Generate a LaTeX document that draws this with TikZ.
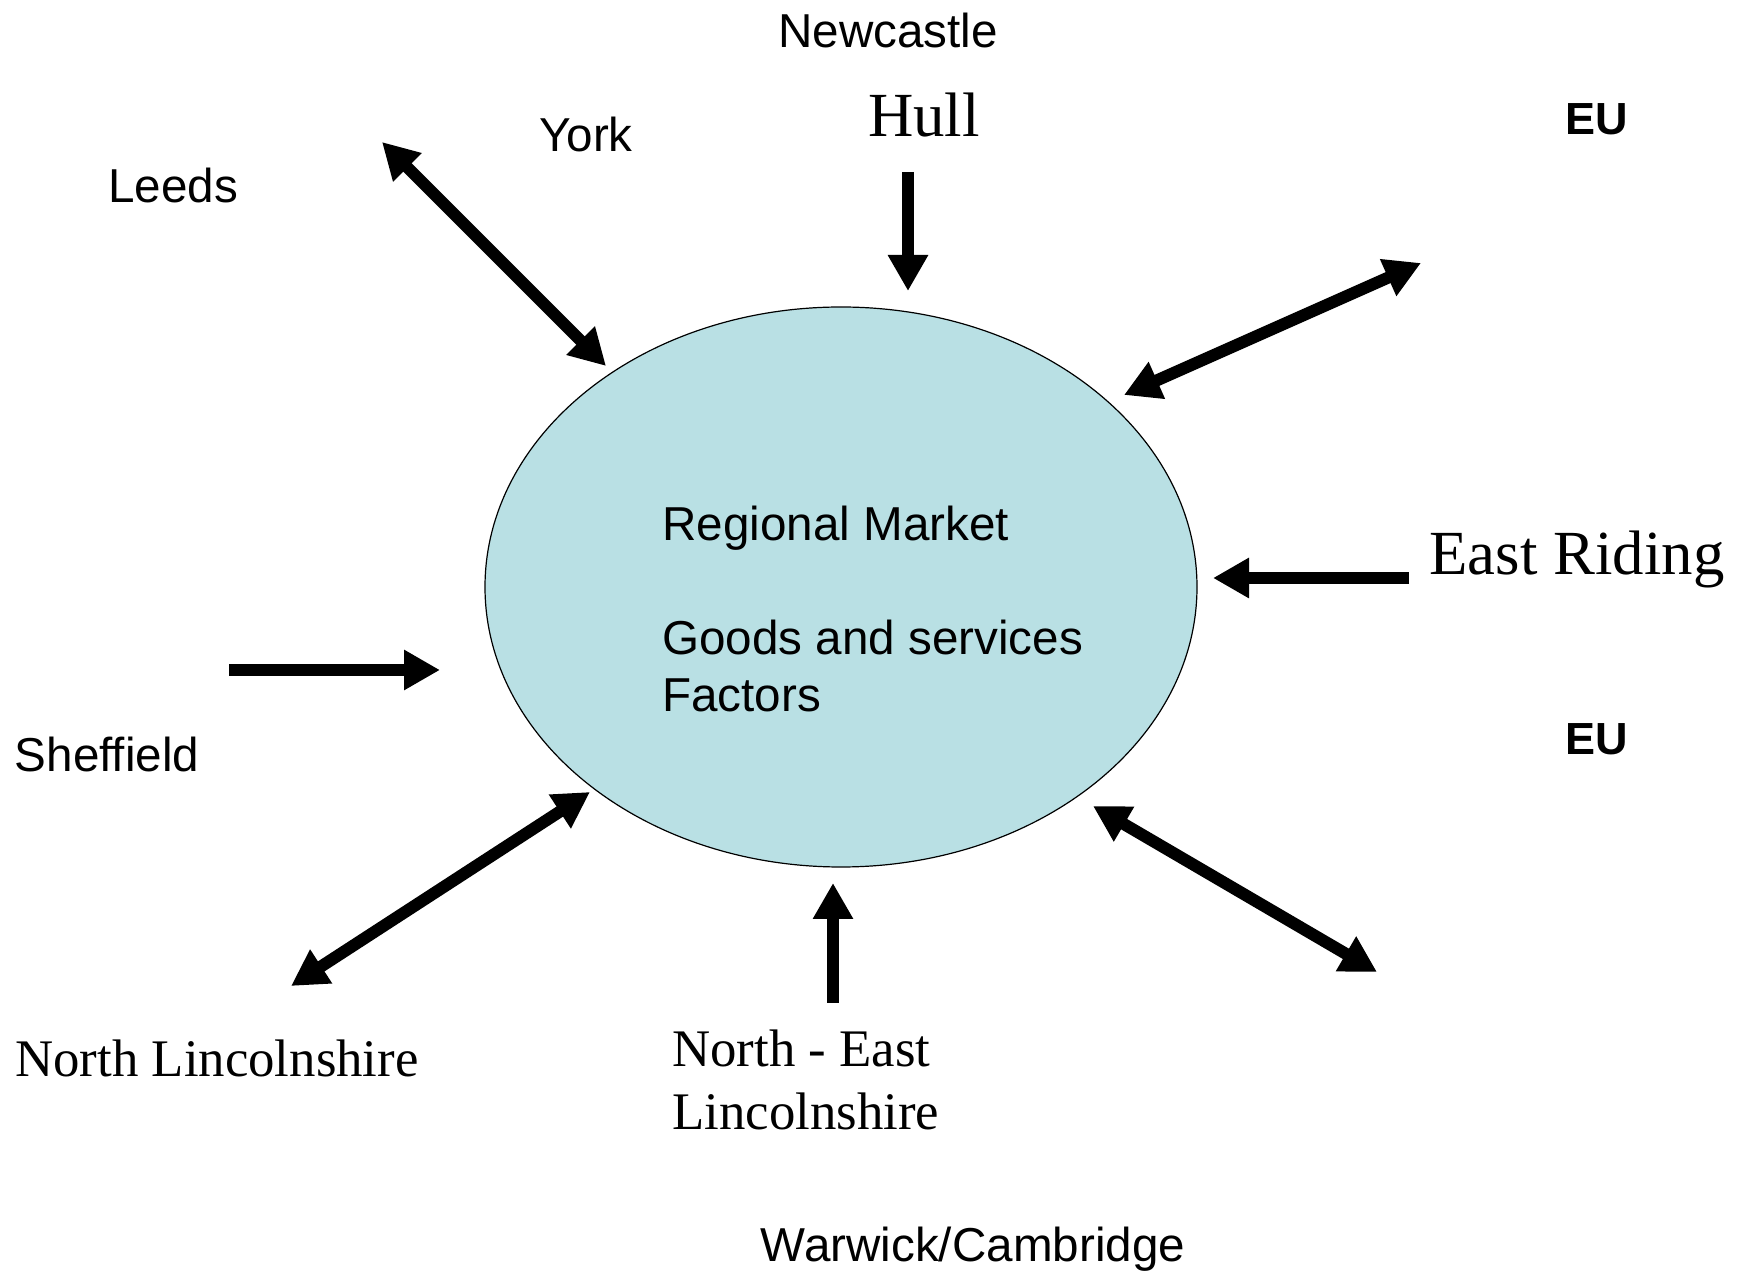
\documentclass[tikz,border=0pt]{standalone}
\usepackage{fontspec}
\setmainfont{Liberation Serif}
\setsansfont{Liberation Sans}
\usetikzlibrary{arrows.meta,shapes.geometric}
\definecolor{marketfill}{RGB}{185,224,228}
\tikzset{
  arr/.style={line width=6pt, -{Triangle[length=18pt,width=19pt]}},
  darr/.style={line width=6pt, {Triangle[length=18pt,width=19pt]}-{Triangle[length=18pt,width=19pt]}},
  sanslab/.style={font=\sffamily\fontsize{23.8}{28.5}\selectfont, inner sep=0pt},
  boldlab/.style={font=\sffamily\bfseries\fontsize{22.5}{27}\selectfont, inner sep=0pt},
  serifbig/.style={font=\rmfamily\fontsize{31.4}{36}\selectfont, inner sep=0pt},
  serifmid/.style={font=\rmfamily\fontsize{26.4}{32}\selectfont, inner sep=0pt},
}
\begin{document}
\begin{tikzpicture}[x=0.5pt,y=-0.5pt]
\useasboundingbox (0,0) rectangle (1737,1272);
\node[ellipse, draw=black, line width=0.6pt, fill=marketfill, minimum width=356pt, minimum height=280pt, inner sep=0pt] (market) at (841,587) {};
\node[sanslab, align=left, anchor=base west] (mtext) at (662,712) {Regional Market\\[28.5pt]Goods and services\\Factors};

\node[sanslab, anchor=base] (newcastle) at (888,48) {Newcastle};
\node[serifbig, anchor=base] (hull) at (924,137) {Hull};
\node[sanslab, anchor=base] (york) at (586,152) {York};
\node[sanslab, anchor=base] (leeds) at (173,203) {Leeds};
\node[boldlab, anchor=base] (eu1) at (1597,135) {EU};
\node[boldlab, anchor=base] (eu2) at (1597,755) {EU};
\node[serifbig, anchor=base] (eastriding) at (1577,575) {East Riding};
\node[sanslab, anchor=base] (sheffield) at (107,772) {Sheffield};
\node[serifmid, anchor=base] (northlinc) at (217,1077) {North Lincolnshire};
\node[serifmid, align=left, anchor=base west] (nelinc) at (672,1130) {North - East\\Lincolnshire};
\node[sanslab, anchor=base] (warwick) at (973,1261) {Warwick/Cambridge};

\coordinate (yA) at (382,142);  \coordinate (yB) at (606,366);
\coordinate (hA) at (908,172);  \coordinate (hB) at (908,291);
\coordinate (eA) at (1124,395); \coordinate (eB) at (1421,263);
\coordinate (rA) at (1409,578); \coordinate (rB) at (1213,578);
\coordinate (sA) at (229,670);  \coordinate (sB) at (440,670);
\coordinate (nA) at (291,986);  \coordinate (nB) at (590,792);
\coordinate (bA) at (833,1003); \coordinate (bB) at (833,883);
\coordinate (wA) at (1093,806); \coordinate (wB) at (1377,972);

\draw[darr] (yA) -- (yB);
\draw[arr] (hA) -- (hB);
\draw[darr] (eA) -- (eB);
\draw[arr] (rA) -- (rB);
\draw[arr] (sA) -- (sB);
\draw[darr] (nA) -- (nB);
\draw[arr] (bA) -- (bB);
\draw[darr] (wA) -- (wB);
\end{tikzpicture}
\end{document}
